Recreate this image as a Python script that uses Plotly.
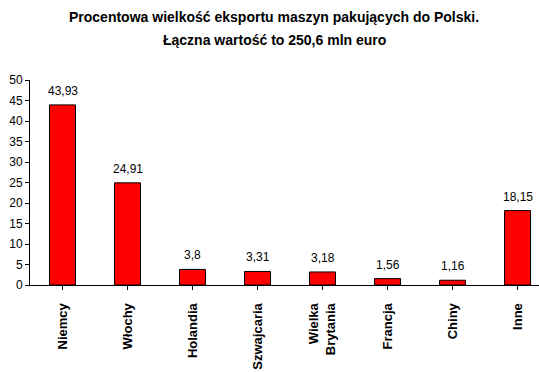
import plotly.graph_objects as go

categories = ["Niemcy", "Włochy", "Holandia", "Szwajcaria", "Wielka<br>Brytania", "Francja", "Chiny", "Inne"]
values = [43.93, 24.91, 3.8, 3.31, 3.18, 1.56, 1.16, 18.15]
value_labels = ["43,93", "24,91", "3,8", "3,31", "3,18", "1,56", "1,16", "18,15"]
y_ticks = [0, 5, 10, 15, 20, 25, 30, 35, 40, 45, 50]

FONT = "Liberation Sans, Arial, sans-serif"

fig = go.Figure()
xs = list(range(len(categories)))
fig.add_trace(go.Bar(
    x=xs,
    y=values,
    width=0.4,
    marker=dict(color="#FF0000", line=dict(color="#000000", width=1)),
    hoverinfo="skip",
))
for xi, v, lab in zip(xs, values, value_labels):
    fig.add_annotation(x=xi, y=v, text=lab, showarrow=False,
                       xanchor="center", yanchor="bottom", yshift=5,
                       font=dict(family=FONT, size=12, color="#000000"))

fig.update_layout(
    width=539, height=372,
    margin=dict(l=30, r=0, t=80, b=87),
    paper_bgcolor="white", plot_bgcolor="white",
    showlegend=False,
    font=dict(family=FONT, size=12, color="#000000"),
)
fig.update_xaxes(
    range=[-0.5, 7.33],
    tickmode="array",
    tickvals=xs,
    ticktext=["<b>%s</b>" % c for c in categories],
    tickangle=-90,
    tickson="boundaries",
    ticks="outside", ticklen=4, tickcolor="#000000",
    ticklabelstandoff=8,
    showline=True, linecolor="#000000", linewidth=1,
    showgrid=False, zeroline=False,
    tickfont=dict(family=FONT, size=13, color="#000000"),
)
fig.update_yaxes(
    range=[0, 50],
    tickvals=y_ticks,
    ticks="outside", ticklen=4, tickcolor="#000000",
    showline=True, linecolor="#000000", linewidth=1,
    showgrid=False, zeroline=False,
    tickfont=dict(family=FONT, size=12, color="#000000"),
)
fig.add_annotation(text="<b>Procentowa wielkość eksportu maszyn pakujących do Polski.</b>",
                   xref="paper", yref="paper", x=(274 - 30) / 509, y=1 + (80 - 17) / 205,
                   xanchor="center", yanchor="middle", showarrow=False,
                   font=dict(family=FONT, size=14, color="#000000"))
fig.add_annotation(text="<b>Łączna wartość to 250,6 mln euro</b>",
                   xref="paper", yref="paper", x=(274 - 30) / 509, y=1 + (80 - 40) / 205,
                   xanchor="center", yanchor="middle", showarrow=False,
                   font=dict(family=FONT, size=14, color="#000000"))

fig.write_html("out.html")
